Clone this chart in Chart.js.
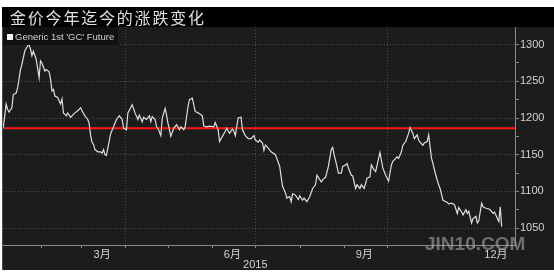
<!DOCTYPE html>
<html>
<head>
<meta charset="utf-8">
<script src="https://cdn.jsdelivr.net/npm/chart.js@4.4.0/dist/chart.umd.min.js"></script>
<style>
  html, body { margin: 0; padding: 0; background: #fff; }
  #wrap { width: 554px; height: 273px; }
</style>
</head>
<body>
<div id="wrap"><canvas id="goldChart" width="554" height="273"></canvas></div>
<script>
const chartTitle = "金价今年迄今的涨跌变化";
const seriesName = "Generic 1st 'GC' Future";
const yearLabel = "2015";
const watermark = "JIN10.COM";

// day of year (0 = 1月1日) and settle price
const days = [
  5, 7, 8, 9, 11, 12, 14, 15, 17, 18,
  20, 21, 22, 23, 24, 25, 26, 28, 30, 31,
  32, 34, 35, 37, 38, 39, 40, 41, 43, 45,
  46, 47, 49, 50, 52, 53, 55, 57, 59, 60,
  62, 64, 65, 66, 67, 68, 69, 71, 73, 74,
  75, 76, 77, 80, 82, 84, 86, 88, 89, 91,
  92, 95, 97, 99, 100, 102, 103, 105, 107, 108,
  109, 111, 112, 113, 115, 116, 118, 119, 120, 122,
  124, 126, 128, 129, 131, 132, 134, 135, 137, 139,
  141, 144, 145, 147, 149, 152, 153, 155, 156, 158,
  160, 161, 163, 165, 166, 167, 169, 171, 172, 174,
  176, 178, 180, 181, 183, 184, 186, 187, 188, 190,
  192, 195, 196, 198, 199, 200, 202, 203, 205, 206,
  207, 209, 211, 212, 214, 215, 217, 219, 221, 223,
  224, 226, 227, 229, 230, 232, 234, 235, 236, 238,
  239, 241, 242, 244, 245, 246, 248, 249, 251, 252,
  254, 255, 257, 259, 261, 262, 264, 265, 268, 270,
  272, 274, 276, 277, 280, 281, 283, 284, 286, 288,
  289, 291, 292, 294, 295, 296, 298, 299, 301, 302,
  304, 305, 307, 309, 310, 312, 313, 315, 316, 318,
  320, 321, 322, 323, 325, 326, 328, 329, 330, 332,
  333, 335, 336, 337, 339, 340, 342, 344, 345, 347,
  348, 350, 351, 352, 353
];
const prices = [
  1187, 1219, 1212, 1208, 1214, 1232, 1234, 1241, 1266, 1273,
  1291, 1295, 1298, 1300, 1294, 1285, 1291, 1280, 1255, 1278,
  1275, 1264, 1266, 1263, 1253, 1237, 1239, 1230, 1228, 1219,
  1226, 1207, 1203, 1207, 1201, 1203, 1207, 1210, 1214, 1210,
  1203, 1198, 1192, 1176, 1167, 1164, 1157, 1154, 1154, 1152,
  1157, 1150, 1149, 1179, 1188, 1198, 1203, 1198, 1186, 1184,
  1207, 1218, 1207, 1198, 1204, 1195, 1201, 1198, 1203, 1195,
  1202, 1198, 1188, 1186, 1176, 1200, 1213, 1204, 1193, 1175,
  1186, 1191, 1184, 1188, 1184, 1188, 1216, 1225, 1227, 1209,
  1207, 1203, 1189, 1188, 1189, 1188, 1194, 1184, 1168, 1175,
  1182, 1186, 1179, 1185, 1182, 1176, 1200, 1201, 1184, 1176,
  1172, 1172, 1176, 1170, 1167, 1170, 1166, 1156, 1163, 1159,
  1154, 1150, 1145, 1134, 1120, 1107, 1098, 1091, 1093, 1086,
  1097, 1095, 1089, 1094, 1088, 1091, 1086, 1093, 1104, 1109,
  1122, 1116, 1113, 1118, 1119, 1134, 1157, 1160, 1150, 1134,
  1125, 1125, 1134, 1136, 1138, 1132, 1122, 1121, 1104, 1109,
  1104, 1109, 1104, 1118, 1120, 1136, 1129, 1127, 1153, 1132,
  1122, 1114, 1136, 1141, 1147, 1145, 1154, 1163, 1168, 1179,
  1187, 1179, 1172, 1177, 1170, 1167, 1163, 1166, 1168, 1177,
  1145, 1138, 1122, 1109, 1104, 1088, 1087, 1085, 1083, 1084,
  1082, 1076, 1070, 1078, 1072, 1068, 1075, 1070, 1073, 1057,
  1063, 1066, 1057, 1060, 1084, 1079, 1077, 1076, 1075, 1070,
  1072, 1063, 1059, 1079, 1052
];
const startPrice = 1186;

const monthLabels = ["3月", "6月", "9月", "12月"];
const monthLabelDays = [74, 165, 257, 349];
const monthStartDays = [31, 59, 90, 120, 151, 181, 212, 243, 273, 304, 334];
const quarterDays = [90, 181, 273];
const yearLabelDay = 181;
const yTicks = [1050, 1100, 1150, 1200, 1250, 1300];

const xMin = 4.8, xMax = 362.3;
const yMin = 1027, yMax = 1324;

const gridColor = "rgba(120,120,120,0.55)";
const textColor = "#d2d2d2";
const fontFamily = "'Liberation Sans', 'Noto Sans CJK SC', sans-serif";

const pricePoints = days.map((d, i) => ({ x: d, y: prices[i] }));
const yAllTicks = [];
yTicks.forEach((v, i) => {
  yAllTicks.push(v);
  if (i < yTicks.length - 1) yAllTicks.push((v + yTicks[i + 1]) / 2);
});

const framePlugin = {
  id: "frame",
  beforeDraw(chart) {
    const { ctx, chartArea, scales } = chart;
    const x = scales.x;
    ctx.save();
    ctx.fillStyle = "#ffffff";
    ctx.fillRect(0, 0, chart.width, chart.height);
    ctx.fillStyle = "#1c1c1c";
    ctx.fillRect(2, 7, chart.width - 2, 263);
    ctx.fillStyle = "#000000";
    ctx.fillRect(2, 7, chart.width - 2, chartArea.top - 7);
    ctx.strokeStyle = "#4a4a4a";
    ctx.lineWidth = 1;
    ctx.beginPath();
    ctx.moveTo(2.5, chartArea.top);
    ctx.lineTo(2.5, 270);
    ctx.stroke();
    // quarter grid lines
    ctx.strokeStyle = gridColor;
    ctx.setLineDash([1, 2]);
    quarterDays.forEach((d) => {
      const px = Math.round(x.getPixelForValue(d)) + 0.5;
      ctx.beginPath();
      ctx.moveTo(px, chartArea.top);
      ctx.lineTo(px, chartArea.bottom);
      ctx.stroke();
    });
    ctx.restore();
  },
  afterDraw(chart) {
    const { ctx, chartArea, scales } = chart;
    const x = scales.x;
    ctx.save();
    // month tick marks
    ctx.strokeStyle = "#8a8a8a";
    ctx.lineWidth = 1;
    monthStartDays.forEach((d) => {
      const px = Math.round(x.getPixelForValue(d)) + 0.5;
      ctx.beginPath();
      ctx.moveTo(px, chartArea.bottom);
      ctx.lineTo(px, chartArea.bottom + 3);
      ctx.stroke();
    });
    // year label
    ctx.fillStyle = textColor;
    ctx.font = "11px " + fontFamily;
    ctx.textAlign = "center";
    ctx.textBaseline = "middle";
    ctx.fillText(yearLabel, x.getPixelForValue(yearLabelDay), 265);
    // title
    ctx.fillStyle = "#e0e0e0";
    ctx.font = "16px 'Noto Sans CJK SC', sans-serif";
    ctx.textAlign = "left";
    ctx.letterSpacing = "1.8px";
    ctx.fillText(chartTitle, 10, 18);
    ctx.letterSpacing = "0px";
    // legend
    ctx.fillStyle = "#111111";
    ctx.fillRect(chartArea.left, chartArea.top, 115, 18);
    ctx.fillStyle = "#f2f2f2";
    ctx.fillRect(chartArea.left + 4, chartArea.top + 7, 6, 6);
    ctx.fillStyle = textColor;
    ctx.font = "9.5px " + fontFamily;
    ctx.fillText(chart.data.datasets[0].label, chartArea.left + 12, chartArea.top + 10);
    // watermark
    ctx.fillStyle = "rgba(165,165,165,0.6)";
    ctx.font = "bold 19px " + fontFamily;
    ctx.textBaseline = "alphabetic";
    ctx.fillText(watermark, 425, 250);
    ctx.restore();
  }
};

new Chart(document.getElementById("goldChart"), {
  type: "line",
  data: {
    datasets: [
      {
        label: seriesName,
        data: pricePoints,
        borderColor: "#dedede",
        borderWidth: 1.2,
        pointRadius: 0,
        tension: 0,
        order: 1
      },
      {
        label: "start",
        data: [{ x: xMin, y: startPrice }, { x: xMax, y: startPrice }],
        borderColor: "#ff1414",
        borderWidth: 2,
        pointRadius: 0,
        order: 2
      }
    ]
  },
  options: {
    responsive: false,
    animation: false,
    layout: { padding: { left: 3, top: 27, right: 0, bottom: 0 } },
    plugins: {
      legend: { display: false },
      tooltip: { enabled: false },
      title: { display: false }
    },
    scales: {
      x: {
        type: "linear",
        min: xMin,
        max: xMax,
        afterBuildTicks: (scale) => {
          scale.ticks = monthLabelDays.map((v) => ({ value: v }));
        },
        afterFit: (scale) => {
          scale.height = 28;
        },
        grid: { drawOnChartArea: false, drawTicks: false },
        border: { display: true, color: "#8a8a8a", width: 1 },
        ticks: {
          autoSkip: false,
          maxRotation: 0,
          padding: 3,
          color: textColor,
          font: { family: fontFamily, size: 11 },
          callback: (value, index) => monthLabels[index]
        }
      },
      y: {
        position: "right",
        min: yMin,
        max: yMax,
        afterBuildTicks: (scale) => {
          scale.ticks = yAllTicks.map((v) => ({ value: v }));
        },
        afterFit: (scale) => {
          scale.width = 39;
        },
        grid: {
          color: (c) => (c.tick && c.tick.value % 50 === 0 ? gridColor : "transparent"),
          tickColor: "#8a8a8a",
          tickLength: 4
        },
        border: { display: true, color: "#8a8a8a", width: 1, dash: [1, 2] },
        ticks: {
          padding: 1,
          color: textColor,
          font: { family: fontFamily, size: 11 },
          callback: (value) => (value % 50 === 0 ? value : "")
        }
      }
    }
  },
  plugins: [framePlugin]
});
</script>
</body>
</html>
